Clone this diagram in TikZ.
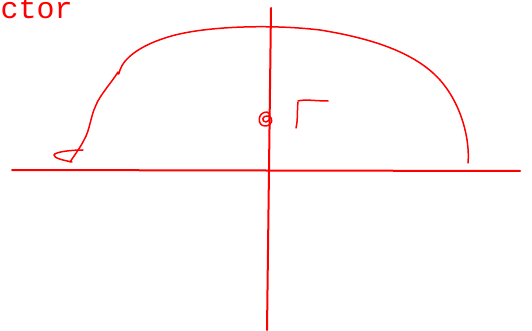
\documentclass[tikz,border=0pt]{standalone}
\usepackage{fontspec}
\newfontfamily\monofont{Liberation Mono}
\begin{document}
\begin{tikzpicture}[x=1pt,y=-1pt,
  ink/.style={draw=red,line width=2pt,line cap=round,line join=round},
  thin ink/.style={draw=red,line width=1.5pt,line cap=round,line join=round}]
\useasboundingbox (0,0) rectangle (532,331);
\node[anchor=base west,inner sep=0pt,text height=16pt,text depth=0pt,text=red,font=\monofont\fontsize{30}{30}\selectfont] (label) at (0.5,18.5) {ctor};
% axes
\coordinate (xl) at (12,170);
\coordinate (xr) at (520,171);
\coordinate (yt) at (271,8);
\coordinate (yb) at (267,330);
\draw[ink] (xl) -- (xr);
\draw[ink] (yt) -- (yb);
% arc arrow
\coordinate (s) at (468,163);
\coordinate (e) at (70,162);
\draw[thin ink] (s) .. controls (470,140) and (462,105) .. (440,80)
  .. controls (415,52) and (370,38) .. (320,30)
  .. controls (270,24) and (200,26) .. (165,38)
  .. controls (140,46) and (124,58) .. (120,70)
  .. controls (119,74) and (118,76) .. (118,72)
  .. controls (112,82) and (100,95) .. (96,105)
  .. controls (90,118) and (90,130) .. (84,140)
  .. controls (80,148) and (74,156) .. (e);
\draw[thin ink] (83,150) .. controls (70,150) and (55,152) .. (54,155)
  .. controls (54,158) and (62,160) .. (72,162);
% small loop at origin region
\draw[thin ink] (267,112) .. controls (257,112) and (257,126) .. (265,126)
  .. controls (273,126) and (274,117) .. (268,116)
  .. controls (262,115) and (261,122) .. (266,122)
  .. controls (271,122) and (271,112) .. (267,112);
% Gamma-like glyph
\draw[thin ink] (298,102) .. controls (297,110) and (298,120) .. (296,128);
\draw[thin ink] (298,101) .. controls (305,99) and (315,101) .. (328,101);
\end{tikzpicture}
\end{document}
